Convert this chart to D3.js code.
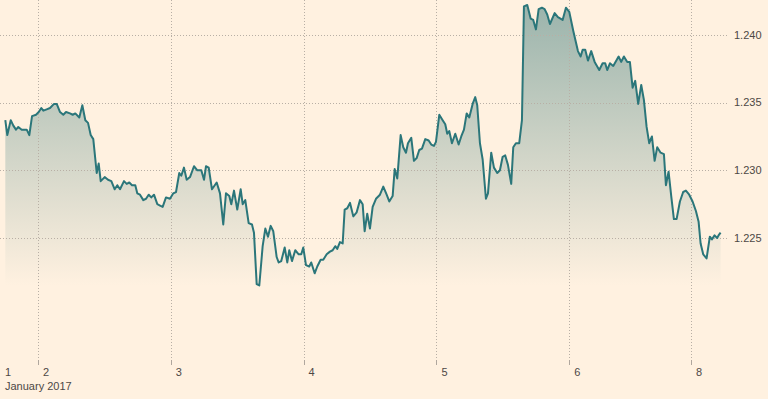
<!DOCTYPE html>
<html>
<head>
<meta charset="utf-8">
<script src="https://cdnjs.cloudflare.com/ajax/libs/d3/7.8.5/d3.min.js"></script>
<style>
  body { margin: 0; background: #fff1e0; }
  svg { display: block; }
  text { font-family: "Liberation Sans", Arial, sans-serif; font-size: 11px; fill: #4d4845; }
</style>
</head>
<body>
<div id="chart"></div>
<script>
//trading hours counted from 2 Jan 2017 00:00 (weekend gap removed)
var hours = [-5.91,-5.55,-4.93,-4.46,-3.98,-3.56,-2.95,-2.04,-1.57,-1.08,-0.36,0.13,0.60,0.96,1.57,2.17,2.89,3.38,3.98,4.57,
  5.06,5.78,6.27,6.74,7.46,8.01,8.55,9.04,9.52,9.99,10.61,10.97,11.33,12.05,12.65,13.25,13.86,14.33,14.82,15.54,
  16.03,16.50,16.99,17.58,17.94,18.43,19.03,19.52,20.00,20.47,20.96,21.56,22.05,22.53,23.13,23.85,24.45,24.94,25.53,25.89,
  26.38,26.87,27.47,28.19,28.79,29.51,30.00,30.36,30.85,31.44,32.29,32.89,33.48,33.97,34.57,34.93,35.42,36.01,36.63,36.99,
  37.46,38.07,38.67,39.03,39.52,39.99,40.60,41.08,41.56,42.05,42.52,43.13,43.49,43.96,44.58,45.05,45.41,45.90,46.49,47.11,
  47.58,47.94,48.43,49.02,49.38,50.00,50.47,51.08,51.55,52.17,52.76,53.25,53.72,54.08,54.57,55.06,55.42,55.89,56.38,56.98,
  57.59,58.19,58.67,59.03,59.50,59.99,60.48,61.08,61.80,62.40,63.01,63.48,64.09,64.46,64.93,65.54,66.01,66.50,66.86,67.46,
  67.94,68.43,68.90,69.39,69.99,70.60,71.07,71.56,71.92,72.52,73.13,73.60,73.96,74.32,74.81,75.41,76.02,76.49,76.98,77.47,
  77.94,78.55,79.02,79.38,79.87,80.36,80.95,81.32,81.91,82.40,83.00,83.48,83.97,84.44,84.93,85.52,85.89,86.37,86.97,87.46,
  87.82,88.42,89.03,89.50,89.99,90.48,91.07,91.56,92.03,92.52,93.37,93.96,94.81,95.41,96.01,96.73,97.58,98.07,98.43,98.90,
  99.39,99.98,100.60,101.43,102.04,102.51,102.87,103.36,103.96,104.93,105.40,105.89,106.49,106.97,107.46,107.93,108.47,109.02,109.50,109.99,
  110.46,110.95,111.44,111.91,112.52,113.12,113.48,113.96,114.44,114.92,115.41,116.01,116.60,117.09,117.69,118.30,118.90,119.39,119.75,120.22,
  120.83,121.42,121.79,122.27,122.74,122.99,123.36];

//exchange rate
var rates = [1.2337,1.2326,1.2337,1.2333,1.2330,1.2332,1.2330,1.2330,1.2326,1.2340,1.2341,1.2343,1.2346,1.2344,1.2345,1.2346,1.2349,1.2349,1.2343,1.2341,
  1.2343,1.2342,1.2341,1.2342,1.2339,1.2348,1.2337,1.2335,1.2326,1.2323,1.2298,1.2305,1.2292,1.2295,1.2293,1.2292,1.2286,1.2289,1.2286,1.2292,
  1.2290,1.2291,1.2289,1.2289,1.2283,1.2282,1.2278,1.2279,1.2282,1.2280,1.2282,1.2275,1.2274,1.2273,1.2280,1.2279,1.2283,1.2284,1.2298,1.2296,
  1.2302,1.2293,1.2295,1.2303,1.2300,1.2300,1.2293,1.2303,1.2302,1.2286,1.2291,1.2283,1.2260,1.2283,1.2281,1.2275,1.2285,1.2271,1.2286,1.2275,
  1.2278,1.2261,1.2260,1.2254,1.2216,1.2215,1.2244,1.2257,1.2251,1.2259,1.2255,1.2236,1.2232,1.2233,1.2243,1.2232,1.2241,1.2233,1.2241,1.2238,
  1.2238,1.2243,1.2230,1.2229,1.2232,1.2224,1.2229,1.2234,1.2234,1.2238,1.2240,1.2241,1.2244,1.2242,1.2247,1.2246,1.2271,1.2272,1.2276,1.2266,
  1.2269,1.2278,1.2275,1.2255,1.2268,1.2257,1.2273,1.2279,1.2282,1.2288,1.2282,1.2277,1.2281,1.2301,1.2294,1.2326,1.2317,1.2313,1.2320,1.2324,
  1.2307,1.2309,1.2315,1.2316,1.2323,1.2322,1.2319,1.2318,1.2321,1.2341,1.2337,1.2334,1.2327,1.2329,1.2320,1.2327,1.2319,1.2325,1.2330,1.2342,
  1.2339,1.2349,1.2354,1.2348,1.2320,1.2308,1.2279,1.2283,1.2313,1.2302,1.2298,1.2300,1.2310,1.2311,1.2304,1.2290,1.2317,1.2320,1.2320,1.2337,
  1.2421,1.2422,1.2412,1.2411,1.2404,1.2419,1.2420,1.2419,1.2415,1.2408,1.2416,1.2413,1.2411,1.2420,1.2417,1.2403,1.2388,1.2384,1.2389,1.2389,
  1.2381,1.2388,1.2380,1.2374,1.2379,1.2379,1.2374,1.2379,1.2377,1.2384,1.2380,1.2384,1.2380,1.2380,1.2361,1.2366,1.2349,1.2363,1.2352,1.2332,
  1.2320,1.2325,1.2307,1.2317,1.2313,1.2312,1.2289,1.2299,1.2281,1.2264,1.2264,1.2277,1.2284,1.2285,1.2282,1.2277,1.2270,1.2262,1.2246,1.2238,
  1.2235,1.2251,1.2249,1.2252,1.2250,1.2252,1.2254];

//day ticks on the trading-hours axis, 7 Jan is a Saturday so it is skipped
var dayTicks = [0, 24, 48, 72, 96, 118];
var dayLabels = ['2', '3', '4', '5', '6', '8'];
var firstDayLabel = '1';
var monthLabel = 'January 2017';
var rateTicks = [1.225, 1.230, 1.235, 1.240];

var data = hours.map(function(h, i) { return {h: h, v: rates[i]}; });

var width = 768, height = 399;
var plotW = 728, plotH = 360;

var svg = d3.select('#chart').append('svg')
  .attr('width', width)
  .attr('height', height);

//set the ranges
var x = d3.scaleLinear().domain([-6.87, 124.7]).range([0, plotW]);
var y = d3.scaleLinear().domain([1.2160, 1.24257]).range([plotH, 0]);

//gradient for the area under the line
var vMin = d3.min(rates), vMax = d3.max(rates);
var grad = svg.append('defs').append('linearGradient')
  .attr('id', 'fade')
  .attr('gradientUnits', 'userSpaceOnUse')
  .attr('x1', 0).attr('x2', 0)
  .attr('y1', y(vMax)).attr('y2', y(vMin));
grad.append('stop').attr('offset', 0).attr('stop-color', '#9bb4ac');
grad.append('stop').attr('offset', 1).attr('stop-color', '#fff1e0');

//area first so the gridlines show through it
var area = d3.area()
  .x(function(d) { return x(d.h); })
  .y0(y(vMin))
  .y1(function(d) { return y(d.v); });
var line = d3.line()
  .x(function(d) { return x(d.h); })
  .y(function(d) { return y(d.v); });

svg.append('path')
  .datum(data)
  .attr('d', area)
  .attr('fill', 'url(#fade)');

//horizontal gridlines
svg.append('g').selectAll('line')
  .data(rateTicks)
  .enter().append('line')
  .attr('x1', 0).attr('x2', plotW)
  .attr('y1', function(d) { return Math.round(y(d)) + 0.5; })
  .attr('y2', function(d) { return Math.round(y(d)) + 0.5; })
  .attr('stroke', '#b8afa5')
  .attr('stroke-dasharray', '1,2');

//vertical gridlines and tick marks
var vg = svg.append('g');
vg.selectAll('line.grid')
  .data(dayTicks)
  .enter().append('line')
  .attr('class', 'grid')
  .attr('x1', function(d) { return Math.round(x(d)) + 0.5; })
  .attr('x2', function(d) { return Math.round(x(d)) + 0.5; })
  .attr('y1', 0).attr('y2', plotH)
  .attr('stroke', '#b8afa5')
  .attr('stroke-dasharray', '1,2');
vg.selectAll('line.tick')
  .data(dayTicks)
  .enter().append('line')
  .attr('class', 'tick')
  .attr('x1', function(d) { return Math.round(x(d)) + 0.5; })
  .attr('x2', function(d) { return Math.round(x(d)) + 0.5; })
  .attr('y1', plotH).attr('y2', plotH + 5)
  .attr('stroke', '#b0a79e');

//the line on top
svg.append('path')
  .datum(data)
  .attr('d', line)
  .attr('fill', 'none')
  .attr('stroke', '#2b767a')
  .attr('stroke-width', 2)
  .attr('stroke-linejoin', 'round');

//right axis labels
svg.append('g').selectAll('text')
  .data(rateTicks)
  .enter().append('text')
  .attr('x', 734)
  .attr('y', function(d) { return y(d); })
  .attr('dy', '0.35em')
  .text(function(d) { return d3.format('.3f')(d); });

//bottom axis labels
svg.append('g').selectAll('text')
  .data(dayTicks)
  .enter().append('text')
  .attr('x', function(d) { return x(d) + 5; })
  .attr('y', plotH + 12)
  .attr('dy', '0.35em')
  .text(function(d, i) { return dayLabels[i]; });
svg.append('text')
  .attr('x', 5).attr('y', plotH + 12).attr('dy', '0.35em')
  .text(firstDayLabel);
svg.append('text')
  .attr('x', 5).attr('y', plotH + 26).attr('dy', '0.35em')
  .text(monthLabel);
</script>
</body>
</html>
